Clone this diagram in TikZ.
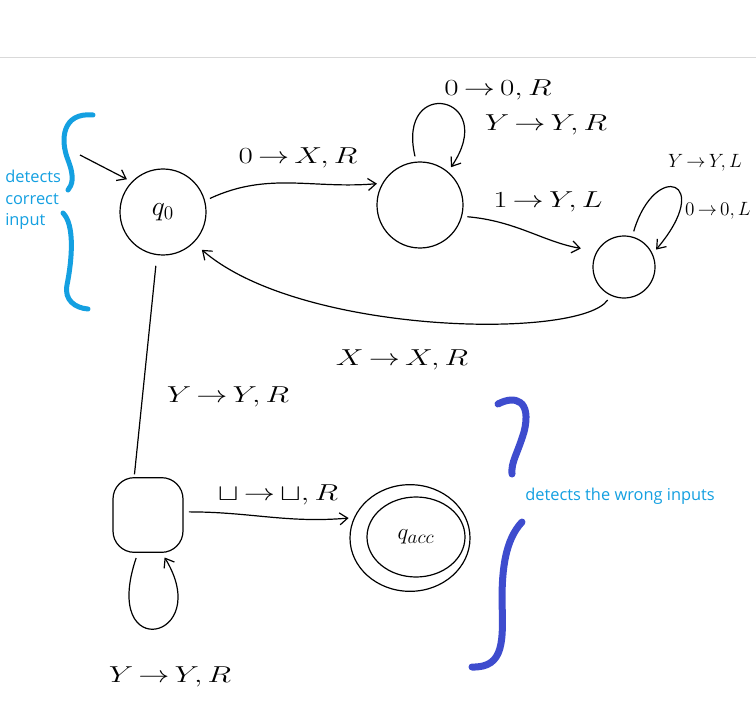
\documentclass[tikz,border=0pt]{standalone}
\usepackage{fontspec}
\newfontfamily\notefont{Open Sans}
\usetikzlibrary{arrows.meta,shapes.geometric}
\definecolor{notecyan}{RGB}{20,160,225}
\definecolor{bracenavy}{RGB}{62,76,206}
\newcommand\hw[1]{\scalebox{1.35}[1]{#1}}
\newcommand\ar{\,{\rightarrow}\,}
\begin{document}
\begin{tikzpicture}[x=0.75pt,y=-0.75pt,
  ink/.style={line width=0.9pt,black},
  st/.style={draw,ink,circle,inner sep=0pt},
  arr/.style={ink,-{Straight Barb[length=6pt,width=9pt]},shorten >=4pt,shorten <=4pt},
  lab/.style={font=\fontsize{18}{22}\selectfont,inner sep=0pt},
  slab/.style={font=\fontsize{15}{18}\selectfont,inner sep=0pt},
  note/.style={font=\notefont\fontsize{12.3}{16.2}\selectfont,text=notecyan,align=left,inner sep=0pt},
  bcyan/.style={notecyan,line width=3.75pt,line cap=round},
  bnavy/.style={bracenavy,line width=5.25pt,line cap=round}]
\useasboundingbox (0,0) rectangle (756,709);
\fill[white] (0,0) rectangle (756,709);
\draw[black!15,line width=0.75pt] (0,58) -- (756,58);

% states
\node[st,minimum size=64.5pt] (q0) at (163,212) {\fontsize{20}{24}\selectfont$q_0$};
\node[st,minimum size=64.5pt] (q1) at (420,205) {};
\node[st,minimum size=46.5pt] (q2) at (624,267) {};
\node[draw,ink,rounded corners=16pt,minimum width=52.5pt,minimum height=56pt] (q3) at (148,515) {};
\node[draw,ink,ellipse,minimum width=90pt,minimum height=80pt,inner sep=0pt] (qacc) at (410,538) {};
\node[draw,ink,ellipse,minimum width=73.5pt,minimum height=60pt,inner sep=0pt] (qacci) at (416,537) {\fontsize{19}{22}\selectfont$q_{acc}$};

% connectors
\coordinate (s) at (80,155);
\draw[arr,shorten <=0pt] (s) -- (q0.136);
\draw[arr] (q0.15) to[out=25,in=185] (q1.150);
\draw[arr] (q1.95) .. controls (396,75) and (500,95) .. (q1.50);
\draw[arr,shorten >=12pt] (q1.-15) to[out=-5,in=170] (q2.150);
\draw[arr] (q2.75) .. controls (655,160) and (715,180) .. (q2.25);
\draw[arr,shorten >=8pt] (q2.-115) .. controls (580,340) and (300,335) .. (q0.-45);
\draw[ink,shorten <=8pt,shorten >=2pt] (q0.-98) -- (q3.110);
\draw[arr] (q3.-105) .. controls (100,665) and (215,640) .. (q3.-70);
\draw[arr] (q3.5) to[out=0,in=185] (qacc.160);

% labels
\node[lab] (l1) at (298,158) {\hw{$0\ar X,R$}};
\node[lab] (l2) at (498,90) {\hw{$0\ar 0,R$}};
\node[lab] (l3) at (546,125) {\hw{$Y\ar Y,R$}};
\node[lab] (l4) at (548,202) {\hw{$1\ar Y,L$}};
\node[slab] (l5) at (705,163) {$Y\ar Y,L$};
\node[slab] (l6) at (718,211) {$0\ar 0,L$};
\node[lab] (l7) at (402,360) {\hw{$X\ar X,R$}};
\node[lab] (l8) at (228,397) {\hw{$Y\ar Y,R$}};
\node[lab] (l9) at (278,495) {\hw{$\sqcup\ar\sqcup,R$}};
\node[lab] (l10) at (170,677) {\hw{$Y\ar Y,R$}};

% braces
\draw[bcyan] (93,115) .. controls (62,112) and (60,140) .. (68,160) .. controls (75,178) and (72,185) .. (68,190);
\draw[bcyan] (63,213) .. controls (75,225) and (72,260) .. (67,285) .. controls (64,300) and (75,308) .. (88,309);
\draw[bnavy] (498,404) .. controls (515,395) and (532,400) .. (524,432) .. controls (517,455) and (511,462) .. (512,474);
\draw[bnavy] (522,522) .. controls (505,540) and (502,570) .. (502,600) .. controls (503,640) and (505,668) .. (472,667);

% notes
\node[note,anchor=west] (n1) at (5,200) {detects\\correct\\input};
\node[note,anchor=west] (n2) at (525,496) {detects the wrong inputs};
\end{tikzpicture}
\end{document}
